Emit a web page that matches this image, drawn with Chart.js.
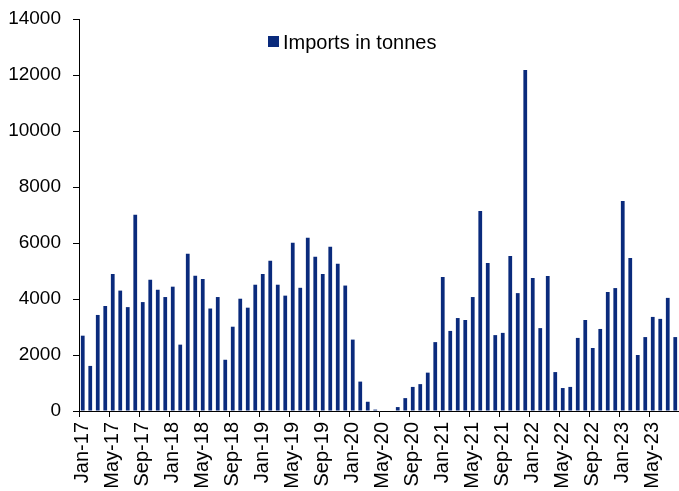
<!DOCTYPE html>
<html>
<head>
<meta charset="utf-8">
<script src="https://cdn.jsdelivr.net/npm/chart.js@4"></script>
<style>
  html, body { margin: 0; padding: 0; background: #fff; }
  #box { width: 679px; height: 491px; }
</style>
</head>
<body>
<div id="box"><canvas id="imports_chart"></canvas></div>
<script>
const months = [
    'Jan-17','Feb-17','Mar-17','Apr-17','May-17','Jun-17','Jul-17','Aug-17','Sep-17','Oct-17','Nov-17','Dec-17',
    'Jan-18','Feb-18','Mar-18','Apr-18','May-18','Jun-18','Jul-18','Aug-18','Sep-18','Oct-18','Nov-18','Dec-18',
    'Jan-19','Feb-19','Mar-19','Apr-19','May-19','Jun-19','Jul-19','Aug-19','Sep-19','Oct-19','Nov-19','Dec-19',
    'Jan-20','Feb-20','Mar-20','Apr-20','May-20','Jun-20','Jul-20','Aug-20','Sep-20','Oct-20','Nov-20','Dec-20',
    'Jan-21','Feb-21','Mar-21','Apr-21','May-21','Jun-21','Jul-21','Aug-21','Sep-21','Oct-21','Nov-21','Dec-21',
    'Jan-22','Feb-22','Mar-22','Apr-22','May-22','Jun-22','Jul-22','Aug-22','Sep-22','Oct-22','Nov-22','Dec-22',
    'Jan-23','Feb-23','Mar-23','Apr-23','May-23','Jun-23','Jul-23','Aug-23'
];

// tonnes per month
const imports = [
    2690, 1610, 3430, 3750, 4890, 4300, 3710, 7010, 3890, 4690, 4330, 4070,
    4440, 2370, 5620, 4830, 4710, 3660, 4070, 1830, 3010, 4010, 3690, 4510,
    4890, 5370, 4510, 4120, 6010, 4400, 6190, 5510, 4890, 5870, 5260, 4480,
    2550, 1050, 330, 50, 0, 0, 140, 460, 860, 960, 1370, 2460,
    4790, 2860, 3320, 3250, 4070, 7140, 5290, 2710, 2790, 5540, 4210, 12180,
    4750, 2960, 4820, 1390, 820, 860, 2610, 3250, 2250, 2930, 4250, 4390,
    7500, 5460, 2000, 2640, 3360, 3290, 4040, 2640
];

const yTicks = {min: 0, max: 14000, step: 2000};
const seriesName = 'Imports in tonnes';
const barColor = '#0a2a7c';
const family = "'Liberation Sans', Arial, sans-serif";

// legend sits inside the plot, drawn by hand
const insideLegend = {
    id: 'insideLegend',
    afterDraw(chart) {
        const ctx = chart.ctx;
        const ds = chart.data.datasets[0];
        ctx.save();
        ctx.fillStyle = ds.backgroundColor;
        ctx.fillRect(268, 36, 11, 11);
        ctx.fillStyle = '#000';
        ctx.font = '20px ' + family;
        ctx.textBaseline = 'middle';
        ctx.fillText(ds.label, 283, 43);
        ctx.restore();
    }
};

new Chart(
    document.getElementById('imports_chart'),
    {
        type: 'bar',
        data: {
            labels: months,
            datasets: [
                {
                    label: seriesName,
                    backgroundColor: barColor,
                    data: imports,
                    barPercentage: 0.5,
                    categoryPercentage: 1
                }
            ]
        },
        options: {
            responsive: true,
            maintainAspectRatio: false,
            animation: false,
            layout: {padding: {top: 19, right: 0, bottom: 0, left: 0}},
            plugins: {
                legend: {display: false},
                tooltip: {enabled: false}
            },
            scales: {
                x: {
                    offset: true,
                    grid: {
                        offset: true,
                        drawOnChartArea: false,
                        tickLength: 6,
                        tickColor: c => (c.index % 4 === 0 ? '#000' : 'rgba(0,0,0,0)')
                    },
                    border: {color: '#000', width: 1},
                    ticks: {
                        autoSkip: false,
                        maxRotation: 90,
                        minRotation: 90,
                        padding: 5,
                        color: '#000',
                        font: {family: family, size: 20},
                        callback: function (val, idx) {
                            return idx % 4 === 0 ? this.getLabelForValue(val) : '';
                        }
                    },
                    afterFit: s => { s.height = 80; s.paddingLeft = 0; s.paddingRight = 0; }
                },
                y: {
                    min: yTicks.min,
                    max: yTicks.max,
                    grid: {
                        drawOnChartArea: false,
                        tickLength: 6,
                        tickColor: '#000'
                    },
                    border: {color: '#000', width: 1},
                    ticks: {
                        stepSize: yTicks.step,
                        padding: 12,
                        color: '#000',
                        font: {family: family, size: 19},
                        callback: v => String(v)
                    },
                    afterFit: s => { s.width = 79; s.paddingTop = 0; s.paddingBottom = 0; }
                }
            }
        },
        plugins: [insideLegend]
    }
);
</script>
</body>
</html>
